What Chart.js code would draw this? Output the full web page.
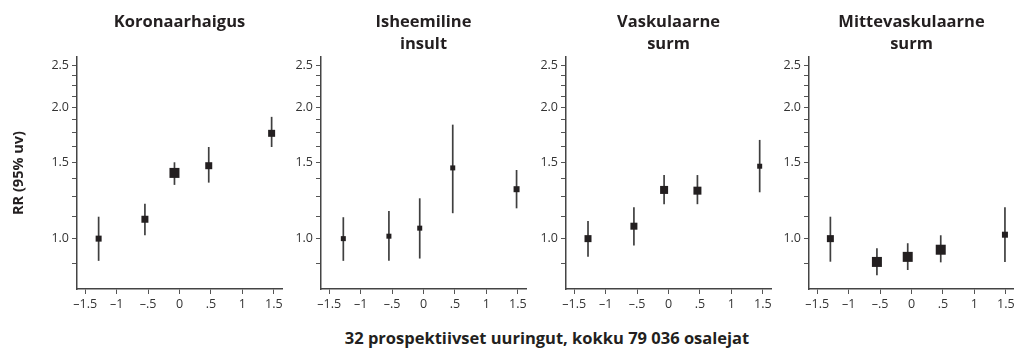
<!DOCTYPE html>
<html><head><meta charset="utf-8">
<script src="https://cdn.jsdelivr.net/npm/chart.js@4/dist/chart.umd.min.js"></script>
<style>
html,body{margin:0;padding:0;background:#fff;width:1014px;height:349px;overflow:hidden;position:relative;}
canvas.p{position:absolute;top:0;}
#cap{position:absolute;left:547px;top:328px;transform:translateX(-50%);white-space:nowrap;font:bold 16.5px 'Open Sans',sans-serif;line-height:20px;color:#231f20;}
</style></head>
<body>
<canvas class="p" id="c0"></canvas>
<canvas class="p" id="c1"></canvas>
<canvas class="p" id="c2"></canvas>
<canvas class="p" id="c3"></canvas>
<div id="cap">32 prospektiivset uuringut, kokku 79 036 osalejat</div>
<script>
// ---- data ----
const panelTitles = [['Koronaarhaigus',''],['Isheemiline','insult'],['Vaskulaarne','surm'],['Mittevaskulaarne','surm']];
const yAxisTitle = 'RR (95% uv)';
const xTicks = [-1.5,-1,-0.5,0,0.5,1,1.5];
const xTickLabels = ['\u20131.5','\u20131','\u2013.5','0','.5','1','1.5'];
const yTicks = [0.875,1,1.125,1.25,1.375,1.5,1.625,1.75,1.875,2,2.125,2.25,2.375,2.5];
const yMajor = [1,1.5,2,2.5];
const yMajorLabels = ['1.0','1.5','2.0','2.5'];

const x1 = [-1.286,-0.55,-0.08,0.465,1.465];
const rr1 = [1.0,1.108,1.416,1.471,1.746];
const lo1 = [0.889,1.018,1.329,1.345,1.624];
const hi1 = [1.123,1.203,1.498,1.624,1.905];
const w1 = [6,7,10,7,7];

const x2 = [-1.275,-0.55,-0.06,0.465,1.48];
const rr2 = [1.0,1.013,1.057,1.454,1.299];
const lo2 = [0.889,0.889,0.9,1.144,1.174];
const hi2 = [1.12,1.158,1.238,1.828,1.438];
const w2 = [5,5,5,5,6];

const x3 = [-1.28,-0.55,-0.07,0.46,1.45];
const rr3 = [1.0,1.068,1.294,1.289,1.467];
const lo3 = [0.909,0.964,1.2,1.2,1.278];
const hi3 = [1.098,1.181,1.40,1.40,1.686];
const w3 = [7,7,8,8,5];

const x4 = [-1.29,-0.55,-0.06,0.465,1.486];
const rr4 = [1.0,0.884,0.908,0.943,1.021];
const lo4 = [0.885,0.824,0.847,0.882,0.884];
const hi4 = [1.123,0.95,0.976,1.018,1.181];
const w4 = [7,10,10,10,6];

// ---- layout ----
const FONT = "'Open Sans', sans-serif";
const INK = '#231f20';
const plotLeft = [77,321,566,809];
const yAxisW = [77,40,40,40];
const plotW = 205;
const padR = 12;
const canvasH = 320;

const panels = [
  {x:x1,rr:rr1,lo:lo1,hi:hi1,w:w1},
  {x:x2,rr:rr2,lo:lo2,hi:hi2,w:w2},
  {x:x3,rr:rr3,lo:lo3,hi:hi3,w:w3},
  {x:x4,rr:rr4,lo:lo4,hi:hi4,w:w4}
];

const errPlugin = {
  id:'errbars',
  beforeDatasetsDraw(chart){
    const ds = chart.data.datasets[0];
    const xs = chart.scales.x, ys = chart.scales.y;
    const ctx = chart.ctx;
    ctx.save();
    ctx.strokeStyle = '#3f3f3f';
    ctx.lineWidth = 1.7;
    ds.data.forEach((p,j)=>{
      const px = xs.getPixelForValue(p.x);
      ctx.beginPath();
      ctx.moveTo(px, ys.getPixelForValue(ds.lo[j]));
      ctx.lineTo(px, ys.getPixelForValue(ds.hi[j]));
      ctx.stroke();
    });
    ctx.restore();
  }
};

panels.forEach((pd,i)=>{
  const cv = document.getElementById('c'+i);
  const W = yAxisW[i] + plotW + padR;
  cv.width = W; cv.height = canvasH;
  cv.style.left = (plotLeft[i]-yAxisW[i])+'px';
  cv.style.width = W+'px'; cv.style.height = canvasH+'px';
  new Chart(cv, {
    type:'scatter',
    data:{datasets:[{
      data: pd.x.map((v,j)=>({x:v,y:pd.rr[j]})),
      lo: pd.lo, hi: pd.hi,
      pointStyle:'rect',
      pointRadius: pd.w.map(s=>s/(2*Math.SQRT1_2)),
      pointHoverRadius: pd.w.map(s=>s/(2*Math.SQRT1_2)),
      backgroundColor: INK, borderWidth:0
    }]},
    options:{
      responsive:false, animation:false, events:[],
      layout:{padding:{top:11,right:padR,left:0,bottom:0}},
      plugins:{
        legend:{display:false}, tooltip:{enabled:false},
        title:{display:true, text:panelTitles[i], fullSize:false, color:INK,
          font:{family:FONT, size:16.5, weight:'bold', lineHeight:22/16.5},
          padding:{top:0,bottom:2}}
      },
      scales:{
        x:{type:'linear', min:-1.63, max:1.63,
          afterBuildTicks:s=>{s.ticks = xTicks.map(v=>({value:v}));},
          afterFit:s=>{s.height = 31;},
          ticks:{callback:(v,k)=>xTickLabels[k], autoSkip:false, maxRotation:0, padding:3,
            color:'#333', font:{family:FONT,size:12.5}},
          grid:{display:true, drawOnChartArea:false, drawTicks:true, tickLength:5, color:'#555', lineWidth:1},
          border:{display:true, color:'#444', width:1.5}
        },
        y:{type:'logarithmic', min:0.766, max:2.615,
          afterBuildTicks:s=>{s.ticks = yTicks.map(v=>({value:v}));},
          afterFit:s=>{s.width = yAxisW[i];},
          ticks:{callback:(v)=>{const k = yMajor.indexOf(v); return k>=0 ? yMajorLabels[k] : '';},
            autoSkip:false, padding:3, color:'#333', font:{family:FONT,size:12.5}},
          grid:{display:true, drawOnChartArea:false, drawTicks:true, tickLength:5, color:'#555', lineWidth:1},
          border:{display:true, color:'#444', width:1.5},
          title:{display:i===0, text:yAxisTitle, color:INK,
            font:{family:FONT,size:14.5,weight:'bold'}, padding:{top:10,bottom:0}}
        }
      }
    },
    plugins:[errPlugin]
  });
});
</script>
</body></html>
